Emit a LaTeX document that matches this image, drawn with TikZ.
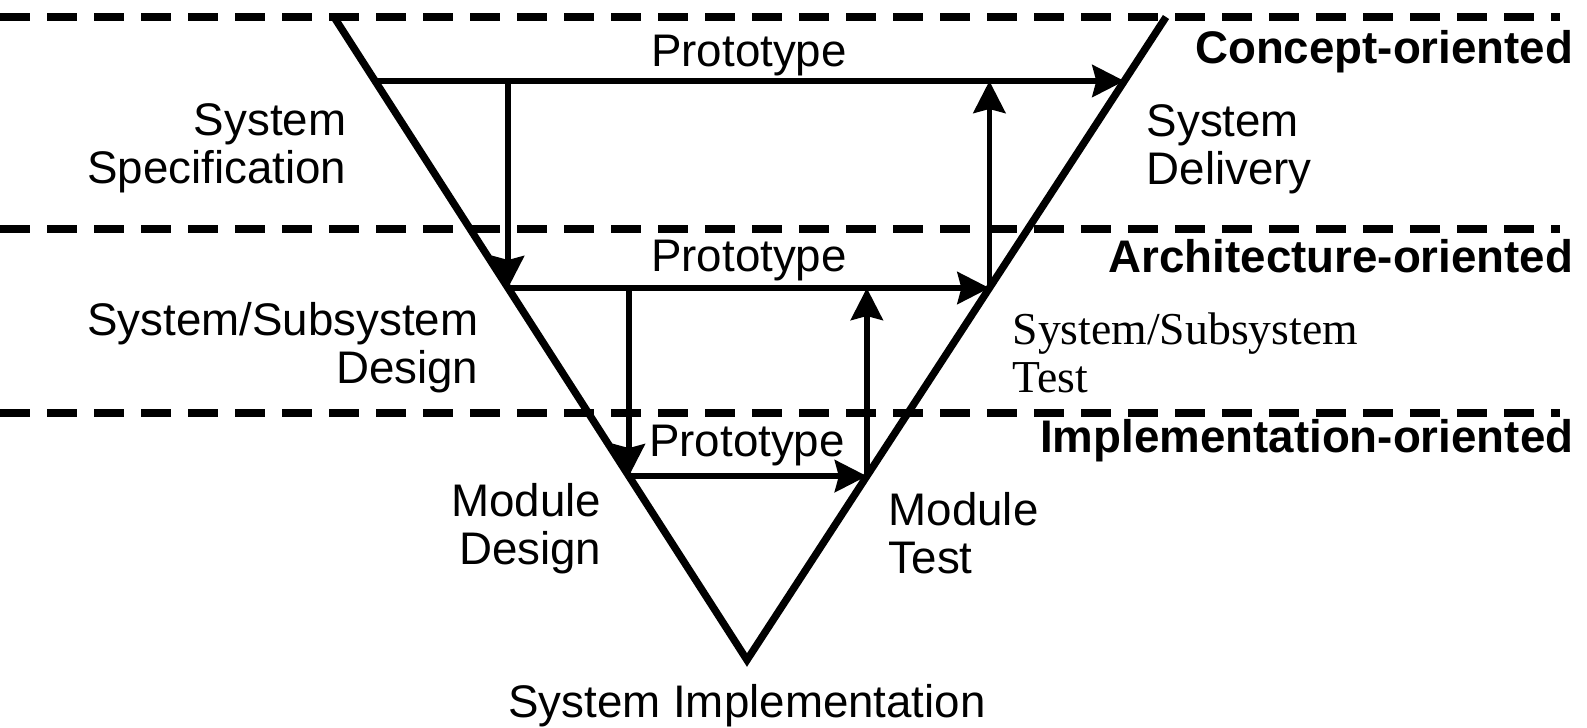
\documentclass[tikz,border=0pt]{standalone}
\usepackage{fontspec}
\setmainfont{Liberation Sans}
\newfontfamily\timesfont{Liberation Serif}
\usetikzlibrary{arrows.meta,calc}

\begin{document}
\begin{tikzpicture}[
    phase node/.style={font=\fontsize{13}{13.7}\selectfont, inner sep=0pt},
    level node/.style={font=\fontsize{13}{13.7}\selectfont\bfseries, inner sep=0pt, anchor=east},
    flow/.style={line width=1.6pt, ->},
    border/.style={line width=2pt, dash pattern=on 0.3cm off 0.17cm},
    >={Stealth[length=3.2mm,width=3.2mm,inset=0.4mm]}]
    \useasboundingbox (0,0) rectangle (15.87,7.27);

    % level borders
    \foreach \y in {7.10,4.98,3.14}
        \draw[border] (0,\y) -- (15.6,\y);

    % the V
    \coordinate (tl) at (3.34,7.10);
    \coordinate (tr) at (11.66,7.10);
    \coordinate (bot) at (7.47,0.67);
    \draw[line width=2.1pt, line join=miter] (tl) -- (bot) -- (tr);

    % points on both legs, one pair per level
    \coordinate (l1) at ($(tl)!0.0995!(bot)$);
    \coordinate (r1) at ($(tr)!0.0995!(bot)$);
    \coordinate (l2) at ($(tl)!0.4215!(bot)$);
    \coordinate (r2) at ($(tr)!0.4215!(bot)$);
    \coordinate (l3) at ($(tl)!0.714!(bot)$);
    \coordinate (r3) at ($(tr)!0.714!(bot)$);

    \draw[flow] (l1) -- (r1);
    \draw[flow] (l2 |- l1) -- (l2);
    \draw[flow] (l2) -- (r2);
    \draw[flow] (r2) -- (r2 |- r1);
    \draw[flow] (l3 |- l2) -- (l3);
    \draw[flow] (l3) -- (r3);
    \draw[flow] (r3) -- (r3 |- r2);

    % prototypes
    \node[phase node] (proto1) at (7.49,6.71) {Prototype};
    \node[phase node] (proto2) at (7.49,4.66) {Prototype};
    \node[phase node] (proto3) at (7.47,2.81) {Prototype};

    % phases
    \node[phase node, align=right, anchor=east] (spec) at (3.47,5.79) {System\\Specification};
    \node[phase node, align=left, anchor=west] (deliv) at (11.46,5.78) {System\\Delivery};
    \node[phase node, align=right, anchor=east] (subdesign) at (4.79,3.79) {System/Subsystem\\Design};
    \node[phase node, align=left, anchor=west, font=\fontsize{13}{13.7}\timesfont] (subtest) at (10.12,3.74) {System/Subsystem\\Test};
    \node[phase node, align=right, anchor=east] (moddesign) at (6.02,1.98) {Module\\Design};
    \node[phase node, align=left, anchor=west] (modtest) at (8.88,1.94) {Module\\Test};
    \node[phase node] (impl) at (7.47,0.21) {System Implementation};

    % levels
    \node[level node] (concept) at (15.74,6.75) {Concept-oriented};
    \node[level node] (arch) at (15.74,4.71) {Architecture-oriented};
    \node[level node] (implevel) at (15.74,2.86) {Implementation-oriented};
\end{tikzpicture}
\end{document}
